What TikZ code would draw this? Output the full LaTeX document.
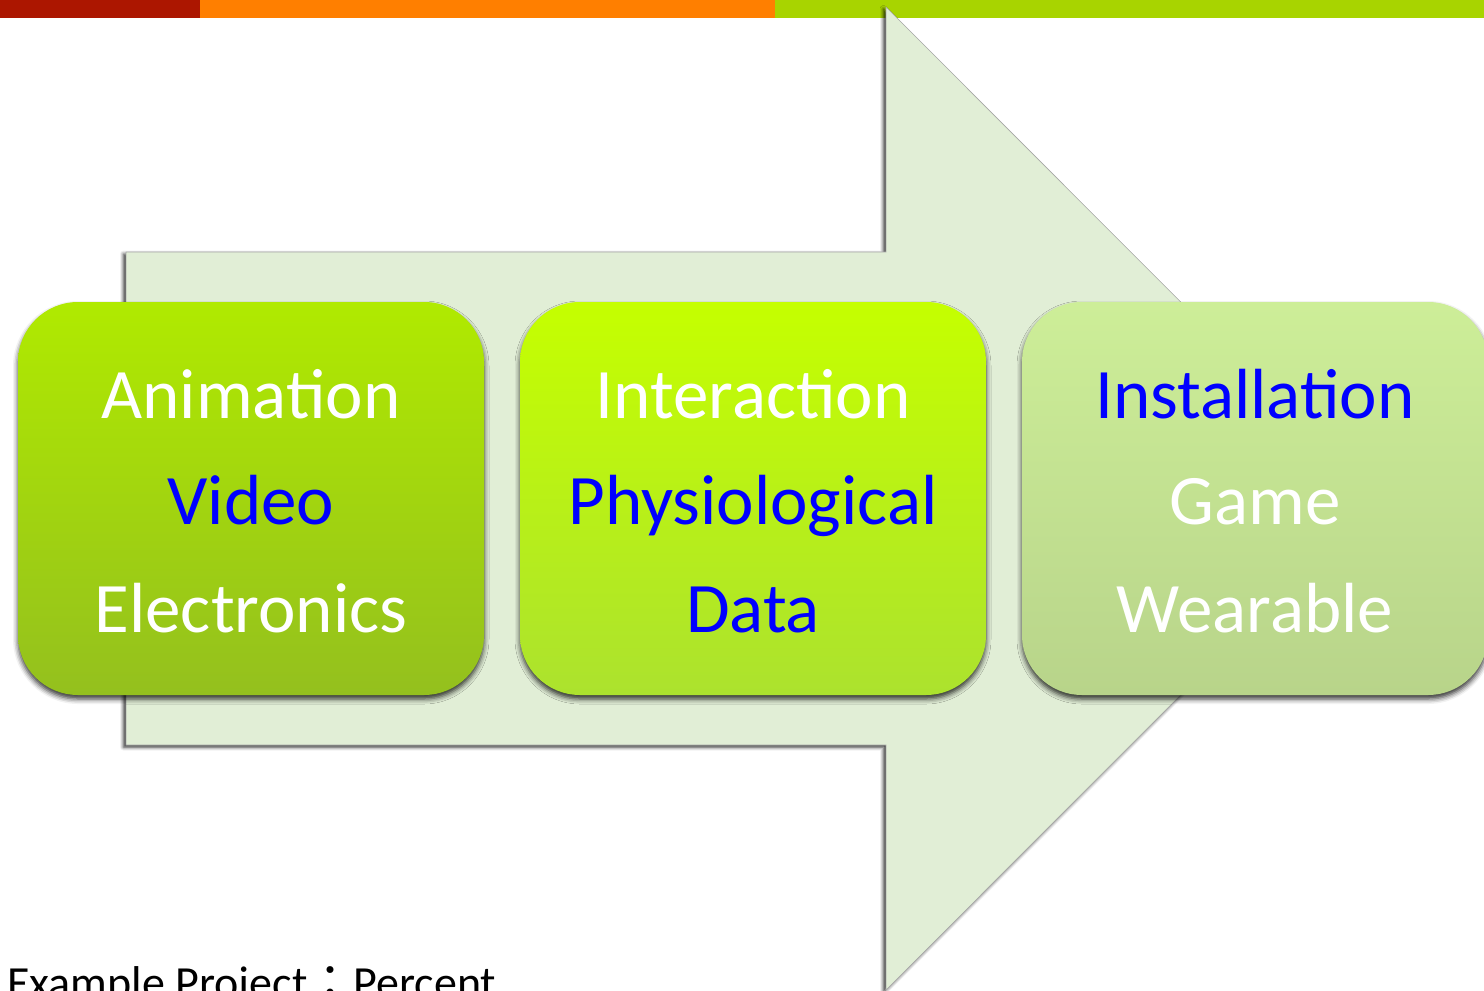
\documentclass[tikz,border=0pt]{standalone}
\usepackage{fontspec}
\setmainfont{Carlito}
\newfontfamily\cjk{Noto Sans CJK JP}
\usetikzlibrary{shadows.blur}
\definecolor{barred}{HTML}{AC1600}
\definecolor{barorange}{HTML}{FF7F00}
\definecolor{bargreen}{HTML}{A8D400}
\definecolor{arrowfill}{HTML}{E1EED6}
\definecolor{boxAtop}{HTML}{B0EA00}
\definecolor{boxAbot}{HTML}{94C01E}
\definecolor{boxBtop}{HTML}{C5FF00}
\definecolor{boxBbot}{HTML}{ACE22E}
\definecolor{boxCtop}{HTML}{CDEE98}
\definecolor{boxCbot}{HTML}{B8D48A}
\definecolor{txtblue}{HTML}{0000FF}
\tikzset{
  stagebox/.style={draw=none, rounded corners=60pt, minimum width=466pt, minimum height=393pt, inner sep=0pt,
    blur shadow={shadow xshift=0pt, shadow yshift=-4pt, shadow blur radius=5pt, shadow opacity=80}},
  label/.style={anchor=base, inner sep=0pt, font=\fontsize{71}{85}\selectfont},
  wtxt/.style={label, text=white},
  btxt/.style={label, text=txtblue},
}
\begin{document}
\begin{tikzpicture}[x=1pt,y=-1pt]
\useasboundingbox (0,0) rectangle (1484,991);
% top bar
\fill[barred] (0,0) rectangle (200,18);
\fill[barorange] (200,0) rectangle (775,18);
\fill[bargreen] (775,0) rectangle (1484,18);
% big arrow
\path[fill=arrowfill, draw=gray!70, line width=0.6pt,
  blur shadow={shadow xshift=-2.5pt, shadow yshift=-2pt, shadow blur radius=3.5pt, shadow opacity=85}]
  (126,252) -- (886,252) -- (886,7) -- (1377,498.5) -- (886,990) -- (886,745) -- (126,745) -- cycle;
% boxes
\node[stagebox, top color=boxAtop, bottom color=boxAbot] (boxA) at (251,498.5) {};
\node[stagebox, top color=boxBtop, bottom color=boxBbot] (boxB) at (753,498.5) {};
\node[stagebox, top color=boxCtop, bottom color=boxCbot] (boxC) at (1255,498.5) {};
% texts
\node[wtxt] (a1) at (251,418) {Animation};
\node[btxt] (a2) at (251,524) {Video};
\node[wtxt] (a3) at (251,632) {Electronics};
\node[wtxt] (b1) at (753,418) {Interaction};
\node[btxt] (b2) at (753,524) {Physiological};
\node[btxt] (b3) at (753,632) {Data};
\node[btxt] (c1) at (1255,418) {Installation};
\node[wtxt] (c2) at (1255,524) {Game};
\node[wtxt] (c3) at (1255,632) {Wearable};
% caption
\node[anchor=base west, inner sep=0pt, font=\fontsize{46}{50}\selectfont] (cap) at (7,998) {Example Project{\cjk ：}Percent};
\end{tikzpicture}
\end{document}
